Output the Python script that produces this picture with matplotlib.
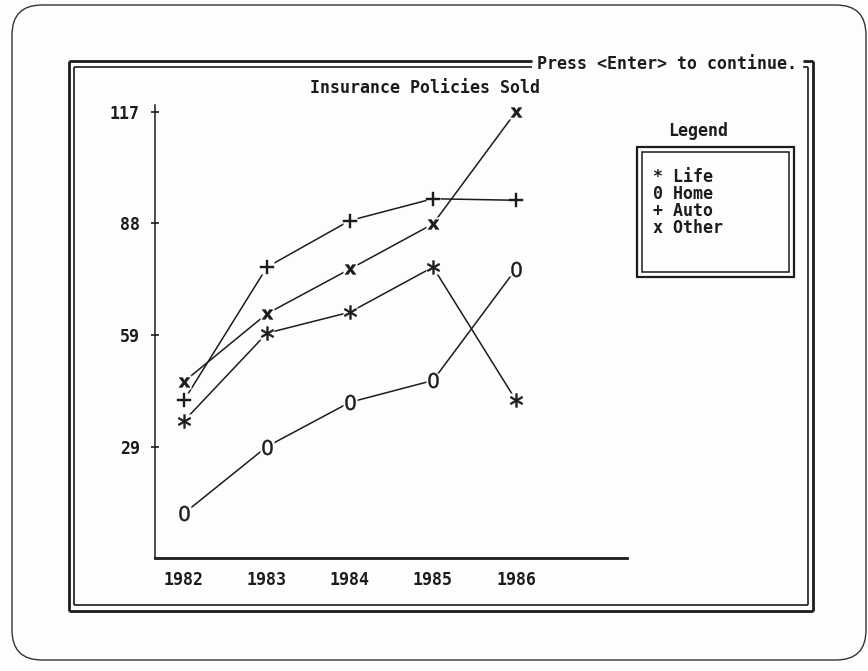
import matplotlib
matplotlib.use("Agg")
import matplotlib.pyplot as plt
from matplotlib.patches import FancyBboxPatch, Rectangle
from matplotlib.lines import Line2D

# ---------------- data ----------------
years = [1982, 1983, 1984, 1985, 1986]
life = [36.0, 59.0, 64.5, 76.3, 41.4]
home = [11.8, 29.3, 40.9, 46.6, 75.8]
auto = [41.4, 76.3, 88.5, 94.2, 93.8]
other = [46.3, 64.1, 75.8, 87.6, 117.0]
series_names = ["Life", "Home", "Auto", "Other"]
series_symbols = ["*", "0", "+", "x"]
ytick_vals = [29.25, 58.5, 87.75, 117.0]
ytick_labels = ["29", "59", "88", "117"]
title = "Insurance Policies Sold"
prompt = "Press <Enter> to continue."

FONT = ["DejaVu Sans Mono", "DejaVu Sans"]
FS = 12
INK = "#1c1c1c"
BG = "#fdfdfb"

W, H = 868, 671
fig = plt.figure(figsize=(W / 100, H / 100), dpi=100, facecolor=BG)

# background axes in pixel coordinates
bg = fig.add_axes([0, 0, 1, 1], zorder=0)
bg.set_xlim(0, W)
bg.set_ylim(H, 0)
bg.axis("off")
bg.set_facecolor(BG)

# screen outline (rounded)
bg.add_patch(FancyBboxPatch((12, 5), 854, 655, boxstyle="round,pad=0,rounding_size=30",
                            fill=False, ec="#333333", lw=1.0))

def hl(x0, x1, y, lw):
    bg.add_line(Line2D([x0, x1], [y, y], color=INK, lw=lw, solid_capstyle="butt"))

def vl(x, y0, y1, lw):
    bg.add_line(Line2D([x, x], [y0, y1], color=INK, lw=lw, solid_capstyle="butt"))

# double frame
ox0, oy0, ox1, oy1 = 69, 61, 813, 611
ix0, iy0, ix1, iy1 = 74, 67, 808, 605
gap0, gap1 = 532, 803
hl(ox0, gap0, oy0, 2.0); hl(gap1, ox1, oy0, 2.0)
hl(ix0, gap0, iy0, 1.2); hl(gap1, ix1, iy0, 1.2)
hl(ox0, ox1, oy1, 2.0); hl(ix0, ix1, iy1, 1.2)
vl(ox0, oy0, oy1, 2.0); vl(ix0, iy0, iy1, 1.2)
vl(ox1, oy0, oy1, 2.0); vl(ix1, iy0, iy1, 1.2)

bg.text(667, 64, prompt, ha="center", va="center", fontsize=FS, fontweight="bold",
        family=FONT, color=INK)
bg.text(425, 88, title, ha="center", va="center", fontsize=FS, fontweight="bold",
        family=FONT, color=INK)

# legend box
bg.text(698, 131, "Legend", ha="center", va="center", fontsize=FS, fontweight="bold",
        family=FONT, color=INK)
bg.add_patch(Rectangle((637, 147), 157, 130, fill=False, ec=INK, lw=1.6))
bg.add_patch(Rectangle((642, 152), 147, 120, fill=False, ec=INK, lw=1.1))
for i, (sym, name) in enumerate(zip(series_symbols, series_names)):
    y = 177 + i * 17
    bg.text(653, y, sym + " " + name, ha="left", va="center", fontsize=FS,
            fontweight="bold", family=FONT, color=INK)

# ---------------- main plot axes ----------------
x_px0, x_px1 = 155, 627
y_px0 = 558.4
px_per_unit = 3.818
ymax = 122
top_px = y_px0 - ymax * px_per_unit
ax = fig.add_axes([x_px0 / W, 1 - y_px0 / H, (x_px1 - x_px0) / W, (y_px0 - top_px) / H],
                  zorder=2)
ax.patch.set_alpha(0)
spacing = 83.0
ax.set_xlim(1982 - (184 - x_px0) / spacing, 1982 + (x_px1 - 184) / spacing)
ax.set_ylim(0, ymax)
for s in ["top", "right"]:
    ax.spines[s].set_visible(False)
ax.spines["left"].set_bounds(0, (y_px0 - 105) / px_per_unit)
ax.spines["left"].set_linewidth(1.1)
ax.spines["bottom"].set_linewidth(2.0)
ax.spines["left"].set_color(INK)
ax.spines["bottom"].set_color(INK)

ax.set_yticks(ytick_vals)
ax.set_yticklabels(ytick_labels)
ax.tick_params(axis="y", direction="inout", length=6, width=1.2, pad=8, colors=INK)
ax.set_xticks(years)
ax.set_xticklabels([str(y) for y in years])
ax.tick_params(axis="x", length=0, pad=9, colors=INK)
for lab in ax.get_xticklabels() + ax.get_yticklabels():
    lab.set_family(FONT)
    lab.set_fontsize(FS)
    lab.set_fontweight("bold")

markers = {"*": (r"$\ast$", 10), "0": (r"$0$", 11), "+": (r"$+$", 10),
           "x": (r"$\mathbf{x}$", 8)}
for vals, sym in zip([life, home, auto, other], series_symbols):
    ax.plot(years, vals, color=INK, lw=1.1, zorder=2, clip_on=False)
    ax.plot(years, vals, ls="none", marker="s", ms=10, mfc=BG, mec="none", zorder=3,
            clip_on=False)
    m, ms = markers[sym]
    ax.plot(years, vals, ls="none", marker=m, ms=ms, mfc=INK, mec=INK, mew=0.3,
            zorder=4, clip_on=False)

fig.savefig("out.png", dpi=100, facecolor=BG)
